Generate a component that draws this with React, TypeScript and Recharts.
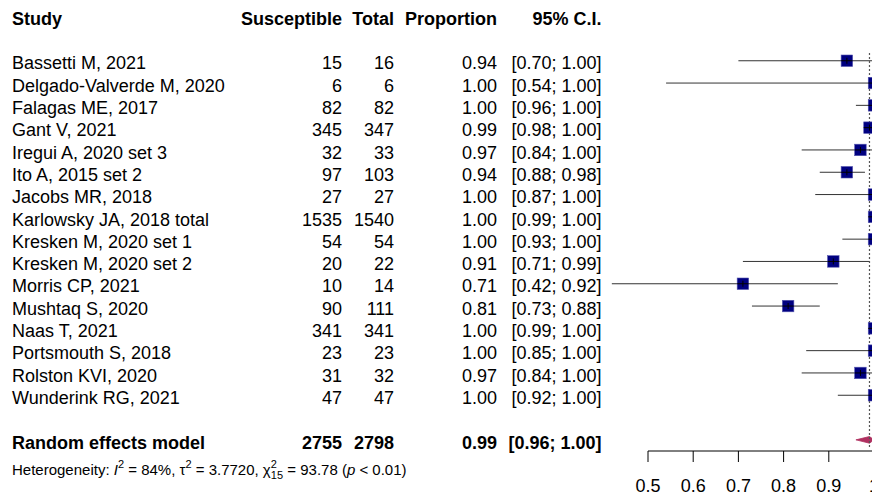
import {
  ComposedChart,
  Scatter,
  XAxis,
  YAxis,
  ReferenceLine,
  ReferenceArea,
} from 'recharts'

// per-study results
const studies = [
  'Bassetti M, 2021',
  'Delgado-Valverde M, 2020',
  'Falagas ME, 2017',
  'Gant V, 2021',
  'Iregui A, 2020 set 3',
  'Ito A, 2015 set 2',
  'Jacobs MR, 2018',
  'Karlowsky JA, 2018 total',
  'Kresken M, 2020 set 1',
  'Kresken M, 2020 set 2',
  'Morris CP, 2021',
  'Mushtaq S, 2020',
  'Naas T, 2021',
  'Portsmouth S, 2018',
  'Rolston KVI, 2020',
  'Wunderink RG, 2021',
]
const susceptible = [15, 6, 82, 345, 32, 97, 27, 1535, 54, 20, 10, 90, 341, 23, 31, 47]
const totals = [16, 6, 82, 347, 33, 103, 27, 1540, 54, 22, 14, 111, 341, 23, 32, 47]
const proportions = [0.94, 1.0, 1.0, 0.99, 0.97, 0.94, 1.0, 1.0, 1.0, 0.91, 0.71, 0.81, 1.0, 1.0, 0.97, 1.0]
const ciLower = [0.7, 0.54, 0.96, 0.98, 0.84, 0.88, 0.87, 0.99, 0.93, 0.71, 0.42, 0.73, 0.99, 0.85, 0.84, 0.92]
const ciUpper = [1.0, 1.0, 1.0, 1.0, 1.0, 0.98, 1.0, 1.0, 1.0, 0.99, 0.92, 0.88, 1.0, 1.0, 1.0, 1.0]

// pooled estimate
const pooledLabel = 'Random effects model'
const pooledSusceptible = 2755
const pooledTotal = 2798
const pooledEstimate = 0.99
const pooledLower = 0.96
const pooledUpper = 1.0

// heterogeneity statistics
const hetI2 = '84%'
const hetTau2 = '3.7720'
const hetChi2 = '93.78'
const hetDf = '15'
const hetP = '< 0.01'

const xTicks = [0.5, 0.6, 0.7, 0.8, 0.9, 1]

const HEADER_ROW = -2
const POOLED_ROW = 17
const rowTicks = [HEADER_ROW, ...studies.map((_, i) => i), POOLED_ROW]

const studyPoints = studies.map((name, i) => ({
  name,
  row: i,
  est: proportions[i],
  lo: ciLower[i],
  hi: ciUpper[i],
}))

const FONT = '"Liberation Sans", Arial, Helvetica, sans-serif'
const COL = { study: 12, susc: 342, total: 394, prop: 497, ci: 601.5 }
const fmt = (v: number) => v.toFixed(2)
const ciText = (lo: number, hi: number) => `[${fmt(lo)}; ${fmt(hi)}]`

const RowLabel = ({ y, payload }: any) => {
  const v = payload.value
  const base = y + 8.7
  const common = { fontFamily: FONT, fontSize: 18, fill: '#000' }

  if (v === HEADER_ROW) {
    return (
      <g>
        <text {...common} fontWeight="bold" x={COL.study} y={base}>Study</text>
        <text {...common} fontWeight="bold" x={COL.susc} y={base} textAnchor="end">Susceptible</text>
        <text {...common} fontWeight="bold" x={COL.total} y={base} textAnchor="end">Total</text>
        <text {...common} fontWeight="bold" x={COL.prop} y={base} textAnchor="end">Proportion</text>
        <text {...common} fontWeight="bold" x={COL.ci} y={base} textAnchor="end">95% C.I.</text>
      </g>
    )
  }

  if (v === POOLED_ROW) {
    return (
      <g>
        <text {...common} fontWeight="bold" x={COL.study} y={base}>{pooledLabel}</text>
        <text {...common} fontWeight="bold" x={COL.susc} y={base} textAnchor="end">{pooledSusceptible}</text>
        <text {...common} fontWeight="bold" x={COL.total} y={base} textAnchor="end">{pooledTotal}</text>
        <text {...common} fontWeight="bold" x={COL.prop} y={base} textAnchor="end">{fmt(pooledEstimate)}</text>
        <text {...common} fontWeight="bold" x={COL.ci} y={base} textAnchor="end">
          {ciText(pooledLower, pooledUpper)}
        </text>
        <text fontFamily={FONT} fontSize={15} fill="#000" x={COL.study} y={y + 35}>
          <tspan>{'Heterogeneity: '}</tspan>
          <tspan fontStyle="italic">I</tspan>
          <tspan fontSize={11} dy={-7}>2</tspan>
          <tspan dy={7}>{` = ${hetI2}, τ`}</tspan>
          <tspan fontSize={11} dy={-7}>2</tspan>
          <tspan dy={7}>{` = ${hetTau2}, χ`}</tspan>
          <tspan fontSize={11} dy={-7}>2</tspan>
          <tspan fontSize={11} dx={-6} dy={11}>{hetDf}</tspan>
          <tspan dy={-4}>{` = ${hetChi2} (`}</tspan>
          <tspan fontStyle="italic">p</tspan>
          <tspan>{` ${hetP})`}</tspan>
        </text>
      </g>
    )
  }

  const i = v as number
  return (
    <g>
      <text {...common} x={COL.study} y={base}>{studies[i]}</text>
      <text {...common} x={COL.susc} y={base} textAnchor="end">{susceptible[i]}</text>
      <text {...common} x={COL.total} y={base} textAnchor="end">{totals[i]}</text>
      <text {...common} x={COL.prop} y={base} textAnchor="end">{fmt(proportions[i])}</text>
      <text {...common} x={COL.ci} y={base} textAnchor="end">{ciText(ciLower[i], ciUpper[i])}</text>
    </g>
  )
}

// study weight box with the estimate tick through it
const StudySquare = (props: any) => {
  const { cx, cy } = props
  const s = 11.5
  return (
    <g>
      <rect x={cx - s / 2} y={cy - s / 2} width={s} height={s} fill="#000080" stroke="#5555b0" strokeWidth={0.6} />
      <line x1={cx - s / 2} x2={cx + s / 2} y1={cy} y2={cy} stroke="#000" strokeWidth={1} />
      <line x1={cx} x2={cx} y1={cy - 3} y2={cy + 3} stroke="#000" strokeWidth={1} />
    </g>
  )
}

const PooledDiamond = (props: any) => {
  const { x, y, width, height } = props
  const xe = x + (width * (pooledEstimate - pooledLower)) / (pooledUpper - pooledLower)
  const points = `${x},${y + height / 2} ${xe},${y} ${x + width},${y + height / 2} ${xe},${y + height}`
  return <polygon points={points} fill="#B03060" stroke="#B03060" strokeWidth={0.8} />
}

export default function App() {
  return (
    <div
      style={{
        position: 'absolute',
        left: 0,
        top: 0,
        width: 872,
        height: 498,
        overflow: 'hidden',
        background: '#fff',
      }}
    >
      <ComposedChart width={880} height={498} margin={{ top: 5, right: 6, bottom: 0, left: 0 }}>
        <XAxis
          type="number"
          dataKey="est"
          domain={[0.5, 1]}
          ticks={xTicks}
          allowDataOverflow
          height={47}
          stroke="#000"
          tickSize={11}
          tickMargin={17}
          tick={{ fill: '#000', fontSize: 18, fontFamily: FONT }}
        />
        <YAxis
          type="number"
          dataKey="row"
          domain={[-2.5, 17.5]}
          reversed
          allowDataOverflow
          ticks={rowTicks}
          interval={0}
          width={648}
          axisLine={false}
          tickLine={false}
          tick={(p: any) => <RowLabel {...p} />}
        />
        {studyPoints.map((p) => (
          <ReferenceLine
            key={p.name}
            segment={[
              { x: p.lo, y: p.row },
              { x: p.hi, y: p.row },
            ]}
            stroke="#333"
            strokeWidth={1}
            ifOverflow="visible"
          />
        ))}
        <ReferenceLine
          segment={[
            { x: pooledEstimate, y: -0.35 },
            { x: pooledEstimate, y: 17.4 },
          ]}
          stroke="#555"
          strokeWidth={1.2}
          strokeDasharray="2 2"
          ifOverflow="visible"
        />
        <ReferenceArea
          x1={pooledLower}
          x2={pooledUpper}
          y1={POOLED_ROW - 0.15}
          y2={POOLED_ROW + 0.15}
          ifOverflow="visible"
          shape={PooledDiamond}
        />
        <Scatter data={studyPoints} shape={StudySquare} isAnimationActive={false} />
      </ComposedChart>
    </div>
  )
}
